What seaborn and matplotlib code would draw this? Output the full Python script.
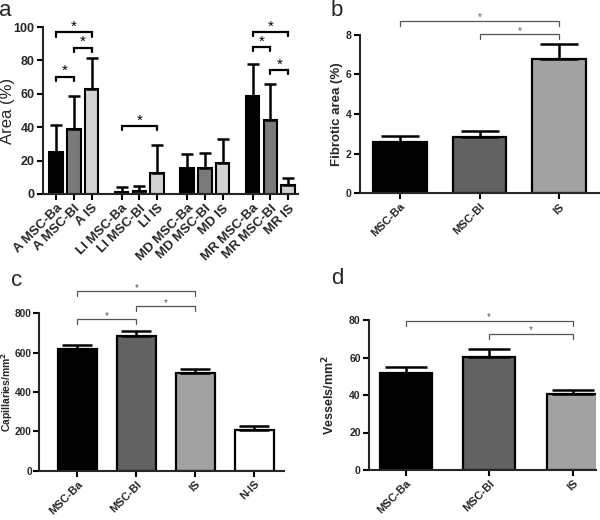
import numpy as np
import pandas as pd
import seaborn as sns
import matplotlib.pyplot as plt

# ---- data ----
# panel a: area (%) by region and treatment (mean, top of error bar)
regions = ['A', 'LI', 'MD', 'MR']
groups_a = ['MSC-Ba', 'MSC-Bl', 'IS']
area_ba = [25.3, 1.3, 15.6, 58.7]
area_bl = [38.9, 1.5, 15.4, 44.3]
area_is = [63.1, 12.6, 18.8, 5.4]
area_ba_top = [41.1, 4.2, 23.8, 77.6]
area_bl_top = [58.9, 4.6, 24.6, 65.9]
area_is_top = [81.4, 29.6, 32.8, 9.6]
# significance brackets: (region, group1, group2, height)
sig_a = [('A', 'MSC-Ba', 'IS', 96.8), ('A', 'MSC-Bl', 'IS', 87.6), ('A', 'MSC-Ba', 'MSC-Bl', 70.3),
         ('LI', 'MSC-Ba', 'IS', 40.7),
         ('MR', 'MSC-Ba', 'IS', 97.0), ('MR', 'MSC-Ba', 'MSC-Bl', 88.0), ('MR', 'MSC-Bl', 'IS', 74.2)]

# panel b: fibrotic area
groups_b = ['MSC-Ba', 'MSC-Bl', 'IS']
fib_mean = [2.59, 2.84, 6.77]
fib_top = [2.87, 3.14, 7.51]
sig_b = [(0, 2, 8.69), (1, 2, 8.02)]

# panel c: capillaries
groups_c = ['MSC-Ba', 'MSC-Bl', 'IS', 'N-IS']
cap_mean = [620, 685, 495, 207]
cap_top = [639, 712, 515, 229]
sig_c = [(0, 1, 770), (1, 2, 836), (0, 2, 912)]

# panel d: vessels
groups_d = ['MSC-Ba', 'MSC-Bl', 'IS']
ves_mean = [51.6, 60.1, 40.5]
ves_top = [55.1, 64.4, 42.7]
sig_d = [(0, 2, 79.5), (1, 2, 72.5)]

colors_a = ['#000000', '#7a7a7a', '#d2d2d2']
colors_bcd = ['#000000', '#626262', '#a2a2a2', '#ffffff']

sns.set_style('ticks')
plt.rcParams['font.family'] = ['Liberation Sans', 'DejaVu Sans']
plt.rcParams['font.weight'] = 'bold'
plt.rcParams['axes.linewidth'] = 1.5


def style_axis(ax, xsize, ysize, ypad=2):
    sns.despine(ax=ax)
    ax.tick_params(axis='both', direction='out', length=4, width=1.5, color='black', pad=2)
    ax.tick_params(axis='x', labelsize=xsize)
    ax.tick_params(axis='y', labelsize=ysize, pad=ypad)
    for lbl in ax.get_xticklabels():
        lbl.set_rotation(45)
        lbl.set_ha('right')
        lbl.set_rotation_mode('anchor')
        lbl.set_fontweight('bold')
    for lbl in ax.get_yticklabels():
        lbl.set_fontweight('bold')
    ax.set_xlabel('')


def bracket(ax, x1, x2, y, drop, lw, color, fs):
    ax.plot([x1, x1, x2, x2], [y - drop, y, y, y - drop], color=color, lw=lw, clip_on=False,
            solid_joinstyle='miter')
    ax.annotate('*', xy=((x1 + x2) / 2, y), xytext=(0, -1), textcoords='offset points',
                ha='center', va='bottom', fontsize=fs, color=color, fontweight='normal',
                annotation_clip=False)


fig = plt.figure(figsize=(6, 5.2), dpi=100)
ax_a = fig.add_axes([43 / 600, 1 - 194 / 520, 255 / 600, 167 / 520])
ax_b = fig.add_axes([360 / 600, 1 - 193.3 / 520, 239 / 600, 158.6 / 520])
ax_c = fig.add_axes([39 / 600, 1 - 470.7 / 520, 245 / 600, 157.4 / 520])
ax_d = fig.add_axes([369 / 600, 1 - 470 / 520, 227 / 600, 150 / 520])

# ---- panel a ----
df_a = pd.DataFrame({
    'region': regions * 3,
    'group': np.repeat(groups_a, len(regions)),
    'mean': area_ba + area_bl + area_is,
    'top': area_ba_top + area_bl_top + area_is_top,
})
sns.barplot(data=df_a, x='region', y='mean', hue='group', order=regions, hue_order=groups_a,
            palette=colors_a, width=0.81, gap=0.24, edgecolor='black', linewidth=1.5,
            errorbar=None, legend=False, ax=ax_a)
centers = {}
for container, g in zip(ax_a.containers, groups_a):
    for bar, r in zip(container, regions):
        centers[(r, g)] = bar.get_x() + bar.get_width() / 2
df_a['x'] = [centers[(r, g)] for r, g in zip(df_a['region'], df_a['group'])]
ax_a.errorbar(df_a['x'], df_a['mean'], yerr=[np.zeros(len(df_a)), df_a['top'] - df_a['mean']],
              fmt='none', ecolor='black', elinewidth=1.8, capsize=4, capthick=1.8)
df_sorted = df_a.sort_values('x')
ax_a.set_xticks(df_sorted['x'])
ax_a.set_xticklabels([f'{r} {g}' for r, g in zip(df_sorted['region'], df_sorted['group'])])
ax_a.set_xlim(-0.47, 3.42)
ax_a.set_ylim(0, 100)
ax_a.set_yticks([0, 20, 40, 60, 80, 100])
style_axis(ax_a, 9.5, 9)
ax_a.set_ylabel('Area (%)', fontsize=12, fontweight='normal')
ax_a.yaxis.set_label_coords(-0.11, 0.5)
for r, g1, g2, y in sig_a:
    bracket(ax_a, centers[(r, g1)], centers[(r, g2)], y, 2.6, 1.6, 'black', 11)


def simple_panel(ax, groups, means, tops, colors, width, sig, drop, capsize):
    sns.barplot(x=groups, y=means, hue=groups, palette=colors[:len(groups)], width=width,
                edgecolor='black', linewidth=1.6, errorbar=None, legend=False, ax=ax)
    xs = [b.get_x() + b.get_width() / 2 for b in ax.patches]
    ax.errorbar(xs, means, yerr=[np.zeros(len(means)), np.array(tops) - np.array(means)],
                fmt='none', ecolor='black', elinewidth=1.8, capsize=capsize, capthick=1.8)
    for i, j, y in sig:
        bracket(ax, xs[i], xs[j], y, drop, 0.9, '#555555', 7)
    return xs


# ---- panel b ----
simple_panel(ax_b, groups_b, fib_mean, fib_top, colors_bcd, 0.67, sig_b, 0.25, 14)
ax_b.set_xlim(-0.5, 2.5)
ax_b.set_ylim(0, 8)
ax_b.set_yticks([0, 2, 4, 6, 8])
style_axis(ax_b, 8, 7.5)
ax_b.set_ylabel('Fibrotic area (%)', fontsize=9.5, fontweight='bold')
ax_b.yaxis.set_label_coords(-0.071, 0.5)

# ---- panel c ----
simple_panel(ax_c, groups_c, cap_mean, cap_top, colors_bcd, 0.67, sig_c, 25, 11)
ax_c.set_xlim(-0.65, 3.5)
ax_c.set_ylim(0, 800)
ax_c.set_yticks([0, 200, 400, 600, 800])
style_axis(ax_c, 8, 7.3, ypad=1.2)
ax_c.set_ylabel('Capillaries/mm$^\\mathbf{2}$', fontsize=7.5, fontweight='bold')
ax_c.yaxis.set_label_coords(-0.098, 0.5)

# ---- panel d ----
simple_panel(ax_d, groups_d, ves_mean, ves_top, colors_bcd, 0.62, sig_d, 2.5, 15)
ax_d.set_xlim(-0.44, 2.28)
ax_d.set_ylim(0, 80)
ax_d.set_yticks([0, 20, 40, 60, 80])
style_axis(ax_d, 8, 7.5)
ax_d.set_ylabel('Vessels/mm$^\\mathbf{2}$', fontsize=9, fontweight='bold')
ax_d.yaxis.set_label_coords(-0.141, 0.5)

# panel letters
for x, y, s in [(5, 10, 'a'), (337, 11, 'b'), (17, 280, 'c'), (337, 279, 'd')]:
    fig.text(x / 600, 1 - y / 520, s, fontsize=16, fontweight='normal', ha='center', va='center')

fig.savefig('out.png', dpi=100)
